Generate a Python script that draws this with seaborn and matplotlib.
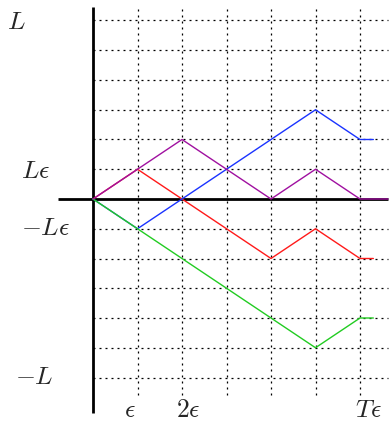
import numpy as np
import pandas as pd
import matplotlib
matplotlib.use("Agg")
import matplotlib.pyplot as plt
import seaborn as sns

# ---- data (units: x in epsilon, y in L*epsilon) ----
blue_x = [0, 1, 5, 6, 6.3]
blue_y = [0, -1, 3, 2, 2]
red_x = [0, 1, 4, 5, 6, 6.3]
red_y = [0, 1, -2, -1, -2, -2]
purple_x = [0, 2, 4, 5, 6, 6.63]
purple_y = [0, 2, 0, 1, 0, 0]
green_x = [0, 5, 6, 6.3]
green_y = [0, -5, -4, -4]

grid_x = [1, 2, 3, 4, 5, 6]
grid_y = [-6, -5, -4, -3, -2, -1, 1, 2, 3, 4, 5, 6]

y_labels = [r"$L$", r"$L\epsilon$", r"$-L\epsilon$", r"$-L$"]
y_label_vals = [6, 1, -1, -6]
x_labels = [r"$\epsilon$", r"$2\epsilon$", r"$T\epsilon$"]
x_label_vals = [1, 2, 6]

sns.set_style("white")
plt.rcParams["mathtext.fontset"] = "cm"

series = []
for name, xs, ys in [("red", red_x, red_y), ("blue", blue_x, blue_y),
                     ("green", green_x, green_y), ("purple", purple_x, purple_y)]:
    for i, (a, b) in enumerate(zip(xs, ys)):
        series.append({"s": name, "x": a, "y": b, "i": i})
df = pd.DataFrame(series)

fig = plt.figure(figsize=(3.9, 4.22), dpi=100)
ax = fig.add_axes([0, 0, 1, 1])
ax.set_xlim(-93 / 44.5, (390 - 93) / 44.5)
ax.set_ylim((199 - 422) / 29.75, 199 / 29.75)
ax.axis("off")

# dotted grid
dot = dict(color="black", lw=0.9, linestyle=(0, (1.6, 3.2)), zorder=1)
for gx in grid_x:
    ax.plot([gx, gx], [-6.6, 6.45], **dot)
for gy in grid_y:
    ax.plot([0, 6.63], [gy, gy], **dot)

palette = {"red": "#ff1a1a", "blue": "#1a33ff", "green": "#22cc22", "purple": "#a010a0"}
sns.lineplot(data=df, x="x", y="y", hue="s", units="s", estimator=None, sort=False,
             palette=palette, lw=1.0, legend=False, ax=ax, zorder=3)

# axes
ax.plot([-0.79, 6.63], [0, 0], color="black", lw=2.0, zorder=2, solid_capstyle="butt")
ax.plot([0, 0], [-7.2, 6.45], color="black", lw=2.0, zorder=2, solid_capstyle="butt")

# labels
y_label_x = [-1.73, -1.28, -1.06, -1.33]
y_label_y = [5.95, 0.95, -0.97, -6.0]
for lab, lx, ly in zip(y_labels, y_label_x, y_label_y):
    ax.text(lx, ly, lab, fontsize=18.5, ha="center", va="center")
x_label_pos = [0.83, 2.13, 6.18]
for lab, v in zip(x_labels, x_label_pos):
    ax.text(v, -7.08, lab, fontsize=18.5, ha="center", va="center")

fig.savefig("out.png", dpi=100)
